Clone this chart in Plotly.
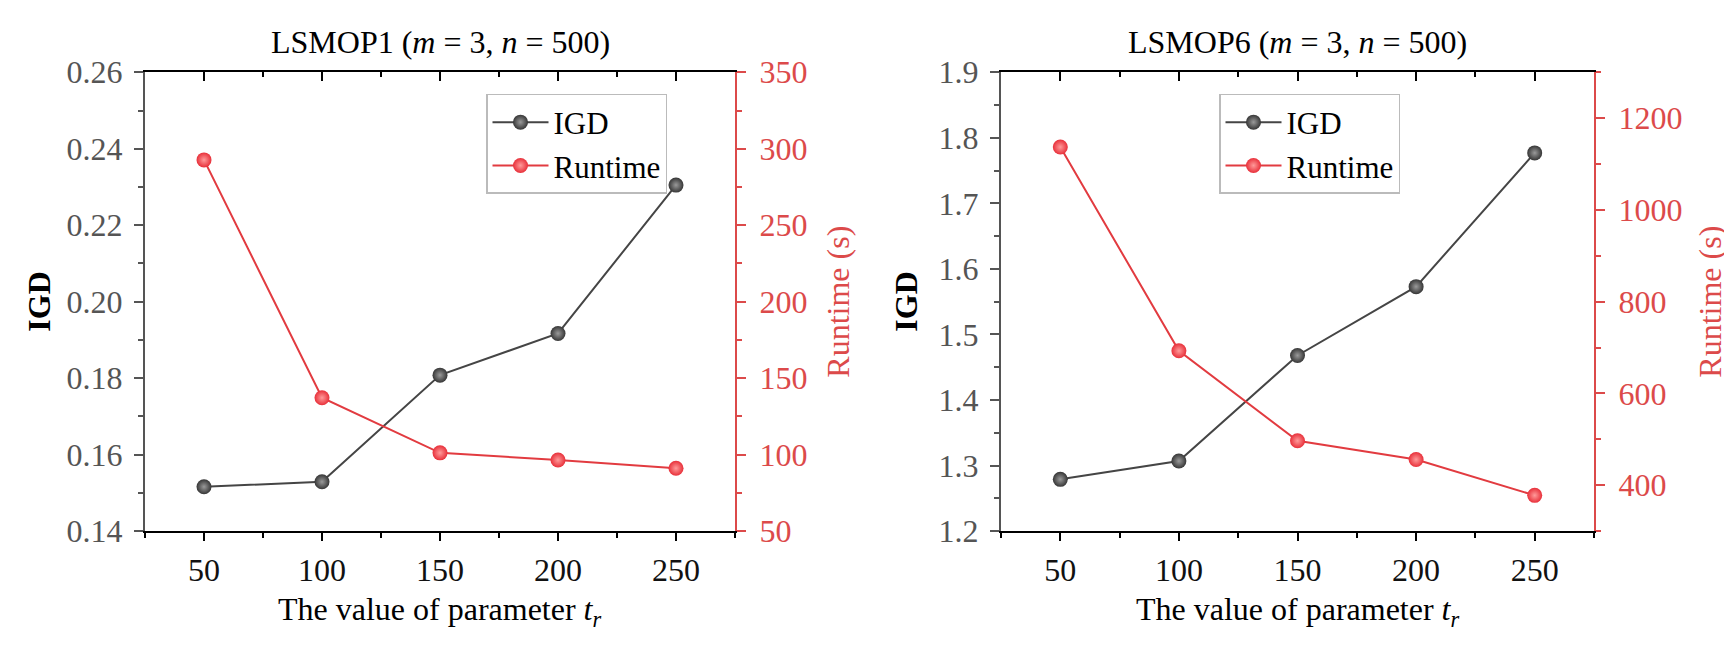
import plotly.graph_objects as go

# ---- data ----
tr_values = [50, 100, 150, 200, 250]
igd_lsmop1 = [0.1516, 0.1529, 0.1808, 0.1917, 0.2305]
runtime_lsmop1 = [292.7, 137.2, 101.2, 96.5, 91.1]
igd_lsmop6 = [1.279, 1.307, 1.468, 1.573, 1.777]
runtime_lsmop6 = [1137, 693, 497, 456, 378]
titles = ["LSMOP1 (<i>m</i> = 3, <i>n</i> = 500)", "LSMOP6 (<i>m</i> = 3, <i>n</i> = 500)"]
series_names = ["IGD", "Runtime"]

W, H = 1732, 645
FONT = "Liberation Serif, Times New Roman, serif"
FS = 32
GRAY = "#555555"
RED_AX = "#dc4a4a"
RED_LINE = "#e23b40"
RED_MK = "#ee3a42"
DARK = "#454545"

def px_x(p):
    return p / W

def px_y(p):
    return 1 - p / H

fig = go.Figure()

panels = [
    dict(x="x", y="y", y2="y2", xtop="x3", legend="legend",
         igd=igd_lsmop1, rt=runtime_lsmop1),
    dict(x="x2", y="y3", y2="y4", xtop="x4", legend="legend2",
         igd=igd_lsmop6, rt=runtime_lsmop6),
]

for p in panels:
    fig.add_trace(go.Scatter(
        x=tr_values, y=p["igd"], name=series_names[0], mode="lines+markers",
        xaxis=p["x"], yaxis=p["y"], legend=p["legend"],
        line=dict(color=DARK, width=2),
        marker=dict(size=15, color="#363636", line=dict(width=0),
                    gradient=dict(type="radial", color="#9a9a9a")),
    ))
    fig.add_trace(go.Scatter(
        x=tr_values, y=p["rt"], name=series_names[1], mode="lines+markers",
        xaxis=p["x"], yaxis=p["y2"], legend=p["legend"],
        line=dict(color=RED_LINE, width=2),
        marker=dict(size=15, color="#e8303a", line=dict(width=0),
                    gradient=dict(type="radial", color="#ff9a9a")),
    ))
    # helper trace so the top (inside-tick) axis is drawn
    fig.add_trace(go.Scatter(x=[], y=[], xaxis=p["xtop"], yaxis=p["y"],
                             showlegend=False, hoverinfo="skip"))

ydom = [px_y(535), px_y(49)]
xdoms = [[px_x(137), px_x(727)], [px_x(993), px_x(1586)]]

def xaxis_cfg(dom, anchor):
    return dict(
        domain=dom, anchor=anchor, range=[25, 275], tickmode="linear", tick0=50, dtick=50,
        showline=True, linecolor="black", linewidth=2, ticks="outside", ticklen=8,
        tickwidth=2, tickcolor="black", showgrid=False, zeroline=False,
        tickfont=dict(family=FONT, size=FS, color="#111111"), ticklabelstandoff=1,
        minor=dict(ticks="outside", ticklen=5, tickwidth=1.5, tickcolor="black", dtick=25, tick0=0),
    )

def xtop_cfg(overlay, anchor):
    return dict(
        overlaying=overlay, anchor=anchor, side="top", range=[25, 275], tickmode="linear",
        tick0=50, dtick=50, showline=True, linecolor="black", linewidth=2,
        ticks="inside", ticklen=9, tickwidth=2, tickcolor="black", showticklabels=False,
        showgrid=False, zeroline=False,
        minor=dict(ticks="inside", ticklen=5, tickwidth=1.5, tickcolor="black", dtick=25, tick0=0),
    )

def yleft_cfg(anchor, rng, dtick, mdtick, fmt):
    return dict(
        domain=ydom, anchor=anchor, range=rng, tickmode="linear", tick0=0, dtick=dtick,
        tickformat=fmt, showline=True, linecolor=GRAY, linewidth=2, ticks="outside",
        ticklen=9, tickwidth=2, tickcolor=GRAY, showgrid=False, zeroline=False,
        tickfont=dict(family=FONT, size=FS, color=GRAY), ticklabelstandoff=5,
        minor=dict(ticks="outside", ticklen=5, tickwidth=1.5, tickcolor=GRAY, dtick=mdtick, tick0=0),
    )

def yright_cfg(overlay, anchor, rng, dtick, mdtick):
    return dict(
        overlaying=overlay, anchor=anchor, side="right", range=rng, tickmode="linear",
        tick0=0, dtick=dtick, showline=True, linecolor=RED_AX, linewidth=2, ticks="outside",
        ticklen=9, tickwidth=2, tickcolor=RED_AX, showgrid=False, zeroline=False,
        tickfont=dict(family=FONT, size=FS, color=RED_AX), ticklabelstandoff=7,
        minor=dict(ticks="outside", ticklen=5, tickwidth=1.5, tickcolor=RED_AX, dtick=mdtick, tick0=0),
    )

legend_common = dict(
    xanchor="left", yanchor="top", bgcolor="white", bordercolor="#bbbbbb", borderwidth=1.5,
    font=dict(family=FONT, size=31, color="black"), itemwidth=56, tracegroupgap=0,
)

fig.update_layout(
    width=W, height=H, margin=dict(l=0, r=0, t=0, b=0),
    paper_bgcolor="white", plot_bgcolor="white",
    font=dict(family=FONT, size=FS, color="black"),
    xaxis=xaxis_cfg(xdoms[0], "y"),
    xaxis2=xaxis_cfg(xdoms[1], "y3"),
    xaxis3=xtop_cfg("x", "y"),
    xaxis4=xtop_cfg("x2", "y3"),
    yaxis=yleft_cfg("x", [0.14, 0.26], 0.02, 0.01, ".2f"),
    yaxis2=yright_cfg("y", "x", [50, 350], 50, 25),
    yaxis3=yleft_cfg("x2", [1.2, 1.9], 0.1, 0.05, ".1f"),
    yaxis4=yright_cfg("y3", "x2", [300, 1300], 200, 100),
    legend=dict(x=px_x(478), y=px_y(72), **legend_common),
    legend2=dict(x=px_x(1211), y=px_y(72), **legend_common),
    showlegend=True,
)

annos = []
title_cx = [432, 1289.5]
igd_x = [31, 898]
rt_x = [830, 1702]
for i in range(2):
    annos.append(dict(text=titles[i], x=px_x(title_cx[i]), y=px_y(17), xref="paper", yref="paper",
                      xanchor="center", yanchor="middle", showarrow=False,
                      font=dict(family=FONT, size=FS, color="black")))
    annos.append(dict(text="The value of parameter <i>t<sub>r</sub></i>", x=px_x(title_cx[i]),
                      y=px_y(620), xref="paper", yref="paper", xanchor="center", yanchor="middle",
                      showarrow=False, font=dict(family=FONT, size=FS, color="black")))
    annos.append(dict(text="<b>IGD</b>", x=px_x(igd_x[i]), y=px_y(292), xref="paper", yref="paper",
                      xanchor="center", yanchor="middle", textangle=-90, showarrow=False,
                      font=dict(family=FONT, size=FS, color="black")))
    annos.append(dict(text="Runtime (s)", x=px_x(rt_x[i]), y=px_y(292), xref="paper", yref="paper",
                      xanchor="center", yanchor="middle", textangle=-90, showarrow=False,
                      font=dict(family=FONT, size=FS, color=RED_AX)))
fig.update_layout(annotations=annos)

fig.write_html("out.html")
